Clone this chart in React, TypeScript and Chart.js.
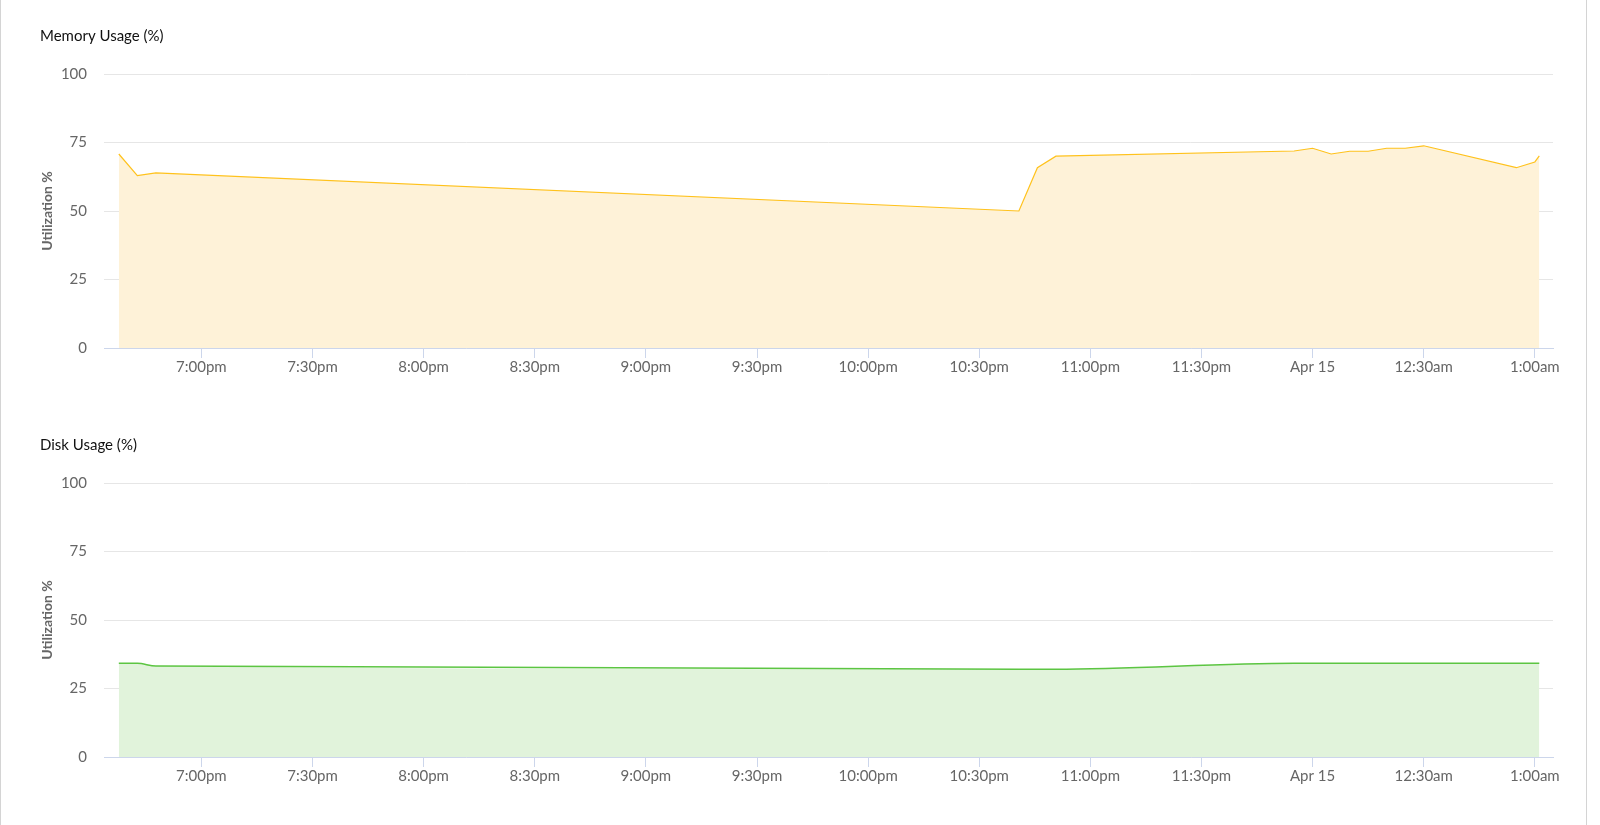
import React, { useEffect, useRef } from "react";
import { Chart, registerables } from "chart.js";

Chart.register(...registerables);

// Sample times in minutes after 6:00pm (Apr 14)
const sampleMinutes = [37.7, 42.7, 47.7, 280.7, 285.7, 290.7, 355, 360, 365, 370, 375, 380, 385, 390, 415, 420, 421.2];
const memoryUsage = [70.8, 62.9, 63.9, 50.0, 65.8, 70.0, 71.9, 72.9, 70.8, 71.8, 71.8, 72.9, 72.9, 73.8, 65.8, 67.9, 70.1];
const diskUsage = [34.2, 34.2, 33.2, 32.0, 32.0, 32.0, 34.2, 34.2, 34.2, 34.2, 34.2, 34.2, 34.2, 34.2, 34.2, 34.2, 34.2];

const xTickMinutes = [60, 90, 120, 150, 180, 210, 240, 270, 300, 330, 360, 390, 420];
const xTickLabels = ["7:00pm", "7:30pm", "8:00pm", "8:30pm", "9:00pm", "9:30pm", "10:00pm", "10:30pm", "11:00pm", "11:30pm", "Apr 15", "12:30am", "1:00am"];
const yTickValues = [0, 25, 50, 75, 100];
const xAxisRange = [33.7, 424.9];

const W = 1585;
const H = 409;

type Spec = {
  title: string;
  values: number[];
  line: string;
  fillColor: string;
  lineWidth: number;
  monotone: boolean;
};

function UsageChart({ spec, top }: { spec: Spec; top: number }) {
  const ref = useRef<HTMLCanvasElement | null>(null);
  useEffect(() => {
    if (!ref.current) return;
    const chart = new Chart(ref.current, {
      type: "line",
      data: {
        datasets: [
          {
            data: sampleMinutes.map((m, i) => ({ x: m, y: spec.values[i] })),
            borderColor: spec.line,
            backgroundColor: spec.fillColor,
            fill: "origin",
            borderWidth: spec.lineWidth,
            pointRadius: 0,
            tension: 0,
            cubicInterpolationMode: spec.monotone ? "monotone" : "default",
          },
        ],
      },
      options: {
        animation: false,
        responsive: false,
        maintainAspectRatio: false,
        layout: { padding: { left: 40, right: 32, top: 0, bottom: 33 } },
        plugins: {
          legend: { display: false },
          tooltip: { enabled: false },
          title: {
            display: true,
            text: spec.title,
            align: "start",
            color: "#111",
            font: { family: "Lato", size: 15, weight: "normal", lineHeight: 1.2 },
            padding: { top: 27, bottom: 29 },
          },
        },
        scales: {
          x: {
            type: "linear",
            min: xAxisRange[0],
            max: xAxisRange[1],
            afterBuildTicks: (s: any) => {
              s.ticks = xTickMinutes.map((v) => ({ value: v }));
            },
            ticks: {
              callback: (_v: any, i: number) => xTickLabels[i],
              color: "#666",
              font: { family: "Lato", size: 15, lineHeight: 1.2 },
              padding: 0,
              maxRotation: 0,
              autoSkip: false,
            },
            grid: { drawOnChartArea: false, drawTicks: true, tickLength: 10, color: "#ccd6eb" },
            border: { display: true, color: "#ccd6eb", width: 1 },
          },
          y: {
            min: 0,
            max: 100,
            afterBuildTicks: (s: any) => {
              s.ticks = yTickValues.map((v) => ({ value: v }));
            },
            afterFit: (s: any) => {
              s.width = 64;
            },
            ticks: { color: "#666", font: { family: "Lato", size: 15 }, padding: 17 },
            grid: { color: "#e6e6e6", drawTicks: false },
            border: { display: false },
            title: {
              display: true,
              text: "Utilization %",
              color: "#666",
              font: { family: "Lato", size: 14, weight: "bold", lineHeight: 1 },
              padding: 0,
            },
          },
        },
      },
    } as any);
    return () => chart.destroy();
  }, [spec]);
  return (
    <canvas
      ref={ref}
      width={W}
      height={H}
      style={{ position: "absolute", left: 0, top, width: W, height: H }}
    />
  );
}

const memorySpec: Spec = {
  title: "Memory Usage (%)",
  values: memoryUsage,
  line: "#FFC21C",
  fillColor: "#FEF2D8",
  lineWidth: 1.2,
  monotone: false,
};

const diskSpec: Spec = {
  title: "Disk Usage (%)",
  values: diskUsage,
  line: "#5CC542",
  fillColor: "#E1F3DB",
  lineWidth: 1.5,
  monotone: true,
};

export default function App() {
  return (
    <div style={{ position: "absolute", left: 0, top: 0, width: 1600, height: 825, background: "#fff", overflow: "hidden" }}>
      <div style={{ position: "absolute", left: 0, top: 0, width: 1, height: 825, background: "#d4d4d4" }} />
      <div style={{ position: "absolute", left: 1586, top: 0, width: 1, height: 825, background: "#d4d4d4" }} />
      <UsageChart spec={memorySpec} top={0} />
      <UsageChart spec={diskSpec} top={409} />
    </div>
  );
}
